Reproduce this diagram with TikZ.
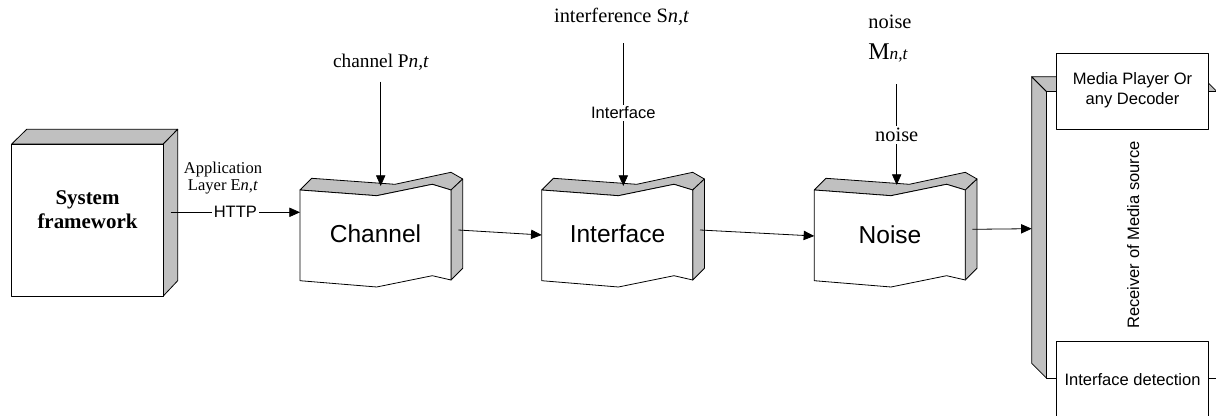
\documentclass[tikz,border=0pt]{standalone}
\usepackage{fontspec}
\setmainfont{Liberation Serif}
\setsansfont{Liberation Sans}
\usetikzlibrary{arrows.meta}
\definecolor{sidegray}{RGB}{192,192,192}
\newcommand\wavybox[1]{%
\begin{scope}[shift={(#1,190)}]
 \filldraw[face] (0,0) -- (11.7,-11.7) -- (95,-5.7) -- (151,-17.7) -- (162.7,-11) -- (151,0) -- (132.3,-5.7) -- (76.7,5.7) -- cycle;
 \filldraw[face] (151,0) -- (162.7,-11) -- (162.7,78.3) -- (151,90) -- cycle;
 \filldraw[front] (0,0) -- (76.7,5.7) -- (132.3,-5.7) -- (151,0) -- (151,90) -- (132.3,85.7) -- (76.7,97) -- (0,90.7) -- cycle;
\end{scope}}
\tikzset{
  x=0.75pt, y=-0.75pt,
  every path/.style={line width=0.6pt},
  face/.style={fill=sidegray, draw=black, line join=round},
  front/.style={fill=white, draw=black, line join=round},
  arr/.style={-{Triangle[length=8pt,width=7pt]}},
  serif/.style={font=\fontsize{12.4}{13}\selectfont, inner sep=1pt},
  serifbig/.style={font=\fontsize{14.5}{16}\selectfont, inner sep=1pt},
  seriflarge/.style={font=\fontsize{15.3}{17}\selectfont, inner sep=1pt},
  sans/.style={font=\sffamily\fontsize{12.4}{15}\selectfont, inner sep=1pt},
  bigsans/.style={font=\sffamily\fontsize{18.4}{22}\selectfont},
  lbl/.style={fill=white, inner sep=1.5pt},
}
\begin{document}
\begin{tikzpicture}
\useasboundingbox (0,0) rectangle (1216,416);

% ---- System framework (3D box)
\filldraw[face] (11.7,144) -- (26.7,129.3) -- (177.7,129.3) -- (163.3,144) -- cycle;
\filldraw[face] (163.3,144) -- (177.7,129.3) -- (177.7,280.7) -- (163.3,296) -- cycle;
\filldraw[front] (11.7,144) rectangle (163.3,296);
\node[align=center, font=\bfseries\fontsize{15.7}{18}\selectfont] (sys) at (87.5,210) {System\\framework};

% ---- wavy 3D shapes
\wavybox{300}
\wavybox{541.7}
\wavybox{814.3}
\node[bigsans] (chan) at (375.5,234) {Channel};
\node[bigsans] (intf) at (617.5,234) {Interface};
\node[bigsans] (noise) at (890,235) {Noise};

% ---- receiver bar
\filldraw[face] (1031.7,76.7) -- (1046.7,91.7) -- (1046.7,378.3) -- (1031.7,363.3) -- cycle;
\filldraw[face] (1031.7,76.7) -- (1202,76.7) -- (1217,91.7) -- (1046.7,91.7) -- cycle;
\filldraw[front] (1046.7,91.7) rectangle (1217,378.3);
\node[sans, rotate=90] (recv) at (1133.3,235) {Receiver of Media source};

\filldraw[front] (1056.7,53.3) rectangle (1208.3,129.3);
\node[sans, align=center, font=\sffamily\fontsize{12.4}{15}\selectfont] (media) at (1132.5,90.7) {Media Player Or\\any Decoder};
\filldraw[front] (1056.7,420) -- (1056.7,341.7) -- (1208.3,341.7) -- (1208.3,420);
\draw (1208.3,378.6) -- (1217,378.6);
\node[sans, fill=white] (idet) at (1132.5,379.3) {Interface detection};

% ---- coordinates for connectors
\coordinate (sysR) at (170.7,212.3);
\coordinate (chL) at (300,212.3);
\coordinate (chR) at (458.3,230);
\coordinate (ifL) at (541.7,235);
\coordinate (ifR) at (700,230);
\coordinate (nsL) at (814.3,236);
\coordinate (nsR) at (972.3,229.3);
\coordinate (rcL) at (1031.7,228.7);

\coordinate (chS) at (380.7,81.7);
\coordinate (chT) at (380.7,186);
\coordinate (ifS) at (623.3,43.3);
\coordinate (ifT) at (623.3,186);
\coordinate (nsS) at (896.7,84.3);
\coordinate (nsT) at (896.7,185);

% ---- labels
\node[serif, align=center] (app) at (223,178) {Application\\Layer E\textit{n,t}};
\node[serifbig] (chlab) at (381,62.3) {channel P\textit{n,t}};
\node[seriflarge] (iflab) at (621.7,16.7) {interference S\textit{n,t}};
\node[seriflarge] (nslab) at (890,21.7) {noise};
\node[inner sep=1pt] (mlab) at (888,53.3) {\fontsize{18}{20}\selectfont M\fontsize{13}{15}\selectfont\textit{n,t}};

% ---- connectors
\draw[arr] (sysR) -- node[sans, lbl] {HTTP} (chL);
\draw[arr] (chR) -- (ifL);
\draw[arr] (ifR) -- (nsL);
\draw[arr] (nsR) -- (rcL);
\draw[arr] (chS) -- (chT);
\draw[arr] (ifS) -- node[sans, lbl, pos=0.486] {Interface} (ifT);
\draw[arr] (nsS) -- node[seriflarge, lbl] {noise} (nsT);
\end{tikzpicture}
\end{document}
